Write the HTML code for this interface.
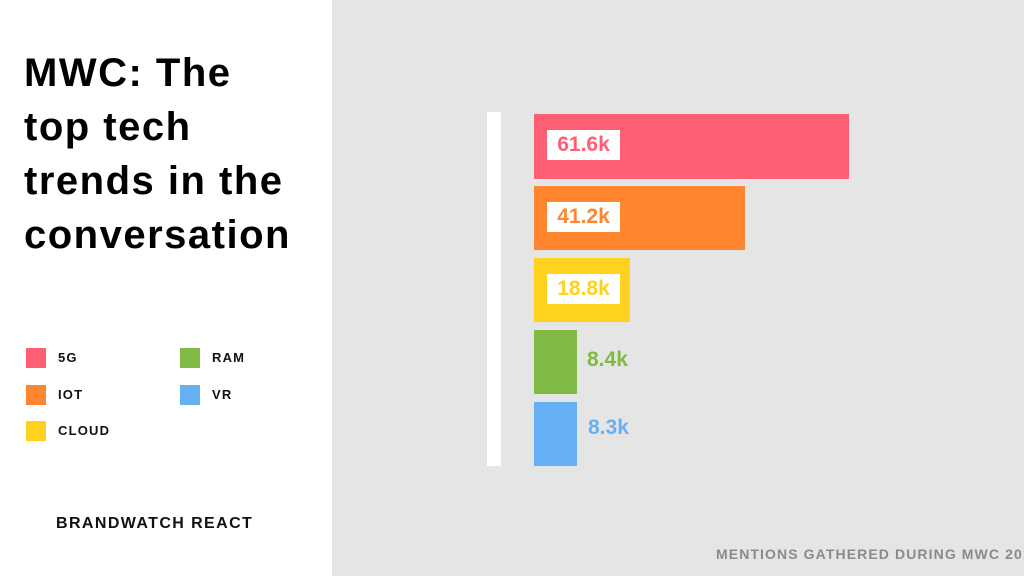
<!DOCTYPE html>
<html><head><meta charset="utf-8"><style>
*{margin:0;padding:0;box-sizing:border-box}
body{width:1024px;height:576px;overflow:hidden;position:relative;background:#e5e5e5;font-family:"Liberation Sans",sans-serif}
.left{position:absolute;left:0;top:0;width:332px;height:576px;background:#fff}
.title{position:absolute;left:24px;top:46px;font-size:40px;font-weight:bold;line-height:54px;color:#000;letter-spacing:1.5px}
.sq{position:absolute;width:20px;height:20px}
.lt{position:absolute;font-size:13px;font-weight:bold;letter-spacing:1.2px;color:#111;line-height:20px}
.bar{position:absolute;left:534px}
.lab{position:absolute;background:#fff;font-weight:bold;font-size:21px;line-height:30px;text-align:center;width:73px;left:13px;top:16px}
.out{position:absolute;font-weight:bold;font-size:21px}
</style></head><body>
<div class="left"></div>
<div class="title">MWC: The<br>top tech<br>trends in the<br>conversation</div>
<div class="sq" style="left:26px;top:348px;background:#ff5f73"></div><div class="lt" style="left:58px;top:348px">5G</div>
<div class="sq" style="left:26px;top:385px;background:#ff862f"></div><div class="lt" style="left:58px;top:385px">IOT</div>
<div class="sq" style="left:26px;top:421px;background:#ffd21f"></div><div class="lt" style="left:58px;top:421px">CLOUD</div>
<div class="sq" style="left:180px;top:348px;background:#80b943"></div><div class="lt" style="left:212px;top:348px">RAM</div>
<div class="sq" style="left:180px;top:385px;background:#65b1f4"></div><div class="lt" style="left:212px;top:385px">VR</div>
<div style="position:absolute;left:56px;top:515px;font-size:16px;font-weight:bold;letter-spacing:1.4px;color:#111">BRANDWATCH REACT</div>
<div style="position:absolute;left:487px;top:112px;width:14px;height:354px;background:#fff"></div>
<div class="bar" style="top:114px;width:315px;height:65px;background:#ff5f73"><div class="lab" style="color:#ff5f73">61.6k</div></div>
<div class="bar" style="top:186px;width:211px;height:64px;background:#ff862f"><div class="lab" style="color:#ff862f">41.2k</div></div>
<div class="bar" style="top:258px;width:96px;height:64px;background:#ffd21f"><div class="lab" style="color:#ffd21f">18.8k</div></div>
<div class="bar" style="top:330px;width:43px;height:64px;background:#80b943"></div>
<div class="out" style="left:587px;top:348px;color:#80b943">8.4k</div>
<div class="bar" style="top:402px;width:43px;height:64px;background:#65b1f4"></div>
<div class="out" style="left:588px;top:416px;color:#65b1f4">8.3k</div>
<div style="position:absolute;left:716px;top:546px;font-size:14px;font-weight:bold;letter-spacing:1.1px;color:#8a8a8a;white-space:nowrap">MENTIONS GATHERED DURING MWC 201</div>
</body></html>
